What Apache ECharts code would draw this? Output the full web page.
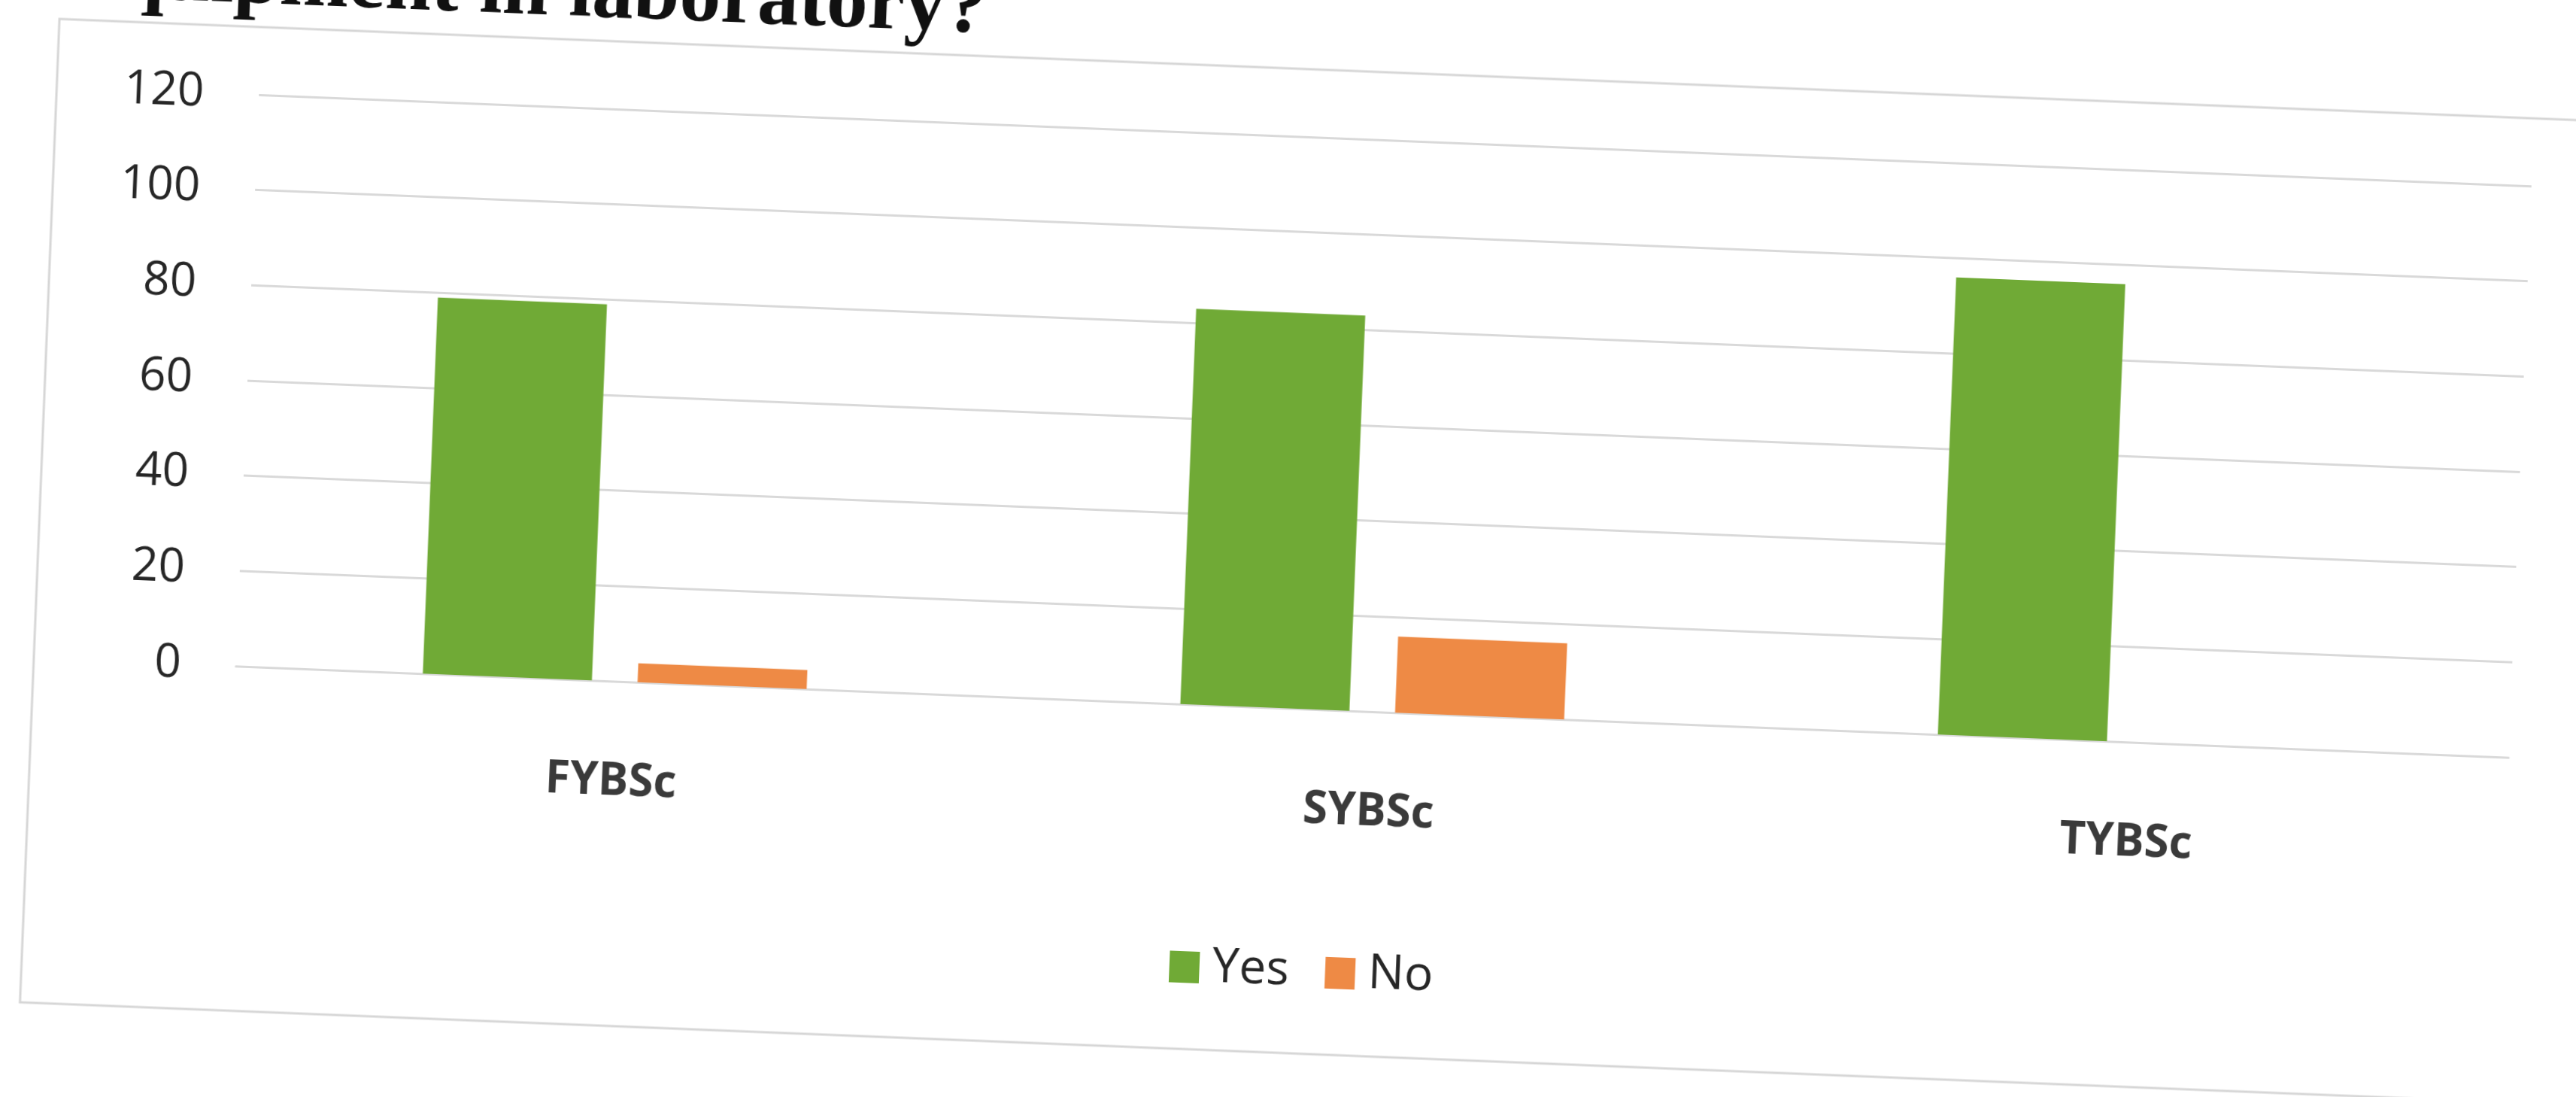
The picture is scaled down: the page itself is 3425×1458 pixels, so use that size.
<!DOCTYPE html>
<html>
<head>
<meta charset="utf-8">
<title>Yes / No by class</title>
<script src="https://cdn.jsdelivr.net/npm/echarts@6.0.0/dist/echarts.min.js"></script>
<style>
    html, body { margin: 0; padding: 0; width: 3425px; height: 1458px; overflow: hidden; background: #fff; }
    /* the photographed page is turned a little clockwise */
    #main { position: absolute; left: 0; top: -200px; width: 3550px; height: 1700px;
            transform-origin: 0 200px; transform: rotate(2.3deg); }
</style>
</head>
<body>
<div id="main"></div>
<script>
// data
var categories = ['FYBSc', 'SYBSc', 'TYBSc'];
var yesValues = [79, 83, 96];
var noValues = [4, 16, 0];
var seriesNames = ['Yes', 'No'];
var yMin = 0, yMax = 120, yStep = 20;
var titleText = 'equipment in laboratory?';

var myChart = echarts.init(document.getElementById('main'));

myChart.setOption({
    backgroundColor: '#fff',
    textStyle: { fontFamily: '"Open Sans", sans-serif' },
    animation: false,
    // chart border + the cut-off question above it
    graphic: [
        {
            type: 'rect', z: -1,
            shape: { x: 80, y: 222, width: 3600, height: 1308 },
            style: { fill: 'none', stroke: '#d6d6d6', lineWidth: 3 }
        },
        {
            type: 'text',
            x: 1312, y: 162,
            style: {
                text: titleText,
                font: 'bold 110px "Liberation Serif", serif',
                fill: '#111',
                align: 'right',
                verticalAlign: 'middle'
            }
        }
    ],
    legend: {
        data: seriesNames,
        left: 1600,
        top: 1384,
        icon: 'rect',
        itemWidth: 40,
        itemHeight: 42,
        itemGap: 48,
        textStyle: { fontSize: 64, color: '#262626', padding: [0, 0, 0, 12] }
    },
    grid: { left: 349, right: 177, top: 312, bottom: 628, containLabel: false },
    xAxis: {
        type: 'category',
        data: categories,
        axisTick: { show: false },
        axisLine: { lineStyle: { color: '#d9d9d9', width: 3 } },
        axisLabel: { fontSize: 60, fontWeight: 'bold', color: '#3a3a3a', margin: 104 }
    },
    yAxis: {
        type: 'value',
        min: yMin,
        max: yMax,
        interval: yStep,
        axisLine: { show: false },
        axisTick: { show: false },
        axisLabel: { fontSize: 62, color: '#262626', margin: 73 },
        splitLine: { lineStyle: { color: '#d9d9d9', width: 3 } }
    },
    series: [
        {
            name: seriesNames[0],
            type: 'bar',
            data: yesValues,
            barWidth: 225,
            barGap: '27%',
            itemStyle: { color: '#70aa36' }
        },
        {
            name: seriesNames[1],
            type: 'bar',
            data: noValues,
            barWidth: 225,
            itemStyle: { color: '#ee8a45' }
        }
    ]
});
</script>
</body>
</html>
